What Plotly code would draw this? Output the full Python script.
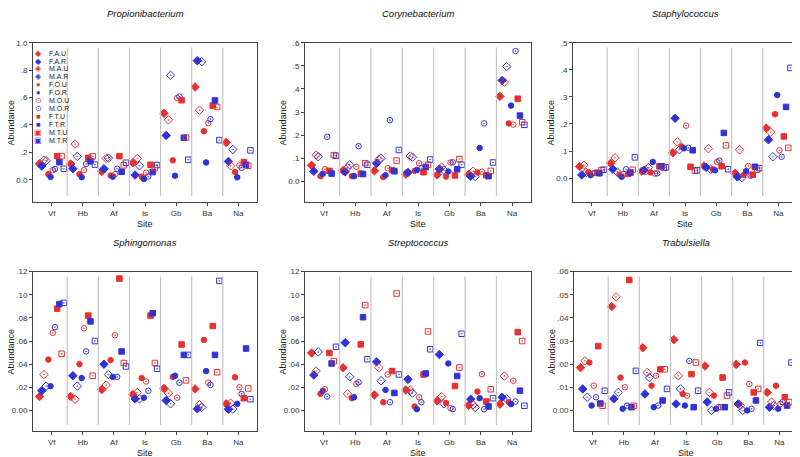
import plotly.graph_objects as go

sites = ["Vf", "Hb", "Af", "Is", "Gb", "Ba", "Na"]
groups = ["F.A.U", "F.A.R", "M.A.U", "M.A.R", "F.O.U", "F.O.R",
          "M.O.U", "M.O.R", "F.T.U", "F.T.R", "M.T.U", "M.T.R"]

# relative abundance, one row per site, columns follow `groups`
propionibacterium = [
    [0.117, 0.100, 0.143, 0.138, 0.040, 0.020, 0.070, 0.078, 0.172, 0.128, 0.172, 0.080],
    [0.115, 0.080, 0.260, 0.170, 0.040, 0.018, 0.070, 0.115, 0.160, 0.135, 0.170, 0.110],
    [0.060, 0.080, 0.155, 0.158, 0.030, 0.022, 0.040, 0.080, 0.172, 0.058, 0.105, 0.124],
    [0.124, 0.034, 0.155, 0.102, 0.022, 0.005, 0.051, 0.024, 0.109, 0.056, 0.085, 0.107],
    [0.485, 0.323, 0.437, 0.762, 0.141, 0.029, 0.597, 0.607, 0.580, 0.306, 0.308, 0.146],
    [0.677, 0.869, 0.507, 0.862, 0.354, 0.126, 0.413, 0.442, 0.541, 0.578, 0.531, 0.289],
    [0.272, 0.133, 0.102, 0.221, 0.056, 0.017, 0.104, 0.087, 0.129, 0.109, 0.102, 0.214],
]
corynebacterium = [
    [0.070, 0.044, 0.114, 0.107, 0.023, 0.033, 0.053, 0.193, 0.046, 0.034, 0.114, 0.111],
    [0.047, 0.042, 0.059, 0.072, 0.023, 0.023, 0.064, 0.153, 0.034, 0.032, 0.079, 0.072],
    [0.046, 0.079, 0.095, 0.100, 0.019, 0.027, 0.057, 0.265, 0.049, 0.044, 0.090, 0.136],
    [0.032, 0.039, 0.110, 0.105, 0.046, 0.050, 0.079, 0.057, 0.040, 0.063, 0.072, 0.095],
    [0.029, 0.054, 0.062, 0.049, 0.021, 0.043, 0.082, 0.083, 0.026, 0.053, 0.097, 0.072],
    [0.030, 0.023, 0.044, 0.021, 0.039, 0.145, 0.042, 0.251, 0.027, 0.023, 0.046, 0.082],
    [0.368, 0.437, 0.430, 0.497, 0.251, 0.328, 0.246, 0.564, 0.358, 0.285, 0.256, 0.245],
]
staphylococcus = [
    [0.043, 0.012, 0.048, 0.021, 0.022, 0.011, 0.017, 0.020, 0.020, 0.018, 0.030, 0.031],
    [0.055, 0.033, 0.075, 0.023, 0.013, 0.005, 0.015, 0.033, 0.016, 0.021, 0.031, 0.077],
    [0.026, 0.029, 0.027, 0.039, 0.021, 0.060, 0.017, 0.018, 0.044, 0.044, 0.038, 0.040],
    [0.094, 0.221, 0.134, 0.105, 0.117, 0.110, 0.194, 0.112, 0.042, 0.103, 0.027, 0.029],
    [0.045, 0.040, 0.109, 0.033, 0.033, 0.029, 0.060, 0.065, 0.044, 0.167, 0.121, 0.033],
    [0.018, 0.005, 0.105, 0.002, 0.013, 0.026, 0.045, 0.009, 0.013, 0.042, 0.031, 0.037],
    [0.185, 0.142, 0.170, 0.079, 0.236, 0.307, 0.103, 0.079, 0.154, 0.263, 0.112, 0.407],
]
sphingomonas = [
    [0.0120, 0.0170, 0.0310, 0.0210, 0.0440, 0.0210, 0.0670, 0.0720, 0.0880, 0.0920, 0.0490, 0.0930],
    [0.0120, 0.0300, 0.0097, 0.0210, 0.0400, 0.0280, 0.0710, 0.0510, 0.0820, 0.0770, 0.0300, 0.0600],
    [0.0180, 0.0400, 0.0220, 0.0310, 0.0435, 0.0290, 0.0650, 0.0290, 0.1140, 0.0510, 0.0410, 0.0380],
    [0.0137, 0.0100, 0.0155, 0.0100, 0.0280, 0.0110, 0.0250, 0.0170, 0.0820, 0.0840, 0.0410, 0.0360],
    [0.0190, 0.0086, 0.0150, 0.0057, 0.0290, 0.0300, 0.0110, 0.0240, 0.0570, 0.0480, 0.0260, 0.0480],
    [0.0186, 0.0014, 0.0049, 0.0026, 0.0610, 0.0340, 0.0240, 0.0220, 0.0730, 0.0480, 0.0330, 0.1120],
    [0.0057, 0.0011, 0.0063, 0.0011, 0.0286, 0.0057, 0.0200, 0.0143, 0.0106, 0.0535, 0.0190, 0.0097],
]
streptococcus = [
    [0.0497, 0.0306, 0.0340, 0.0506, 0.0143, 0.0169, 0.0183, 0.0120, 0.0497, 0.0406, 0.0426, 0.0550],
    [0.0369, 0.0586, 0.0143, 0.0291, 0.0106, 0.0114, 0.0229, 0.0243, 0.0571, 0.0806, 0.0911, 0.0443],
    [0.0134, 0.0420, 0.0369, 0.0257, 0.0071, 0.0177, 0.0311, 0.0071, 0.0340, 0.0151, 0.1011, 0.0311],
    [0.0177, 0.0269, 0.0177, 0.0149, 0.0034, 0.0011, 0.0114, 0.0071, 0.0311, 0.0320, 0.0683, 0.0529],
    [0.0083, 0.0483, 0.0120, 0.0057, 0.0063, 0.0406, 0.0020, 0.0011, 0.0211, 0.0297, 0.0371, 0.0663],
    [0.0043, 0.0097, 0.0049, 0.0026, 0.0163, 0.0106, 0.0314, 0.0011, 0.0077, 0.0034, 0.0183, 0.0106],
    [0.0054, 0.0114, 0.0297, 0.0100, 0.0071, 0.0054, 0.0257, 0.0077, 0.0677, 0.0171, 0.0600, 0.0040],
]
trabulsiella = [
    [0.0185, 0.0093, 0.0214, 0.0057, 0.0207, 0.0021, 0.0107, 0.0057, 0.0278, 0.0030, 0.0020, 0.0085],
    [0.0449, 0.0050, 0.0491, 0.0078, 0.0142, 0.0007, 0.0100, 0.0021, 0.0564, 0.0014, 0.0020, 0.0171],
    [0.0271, 0.0071, 0.0164, 0.0142, 0.0107, 0.0014, 0.0150, 0.0021, 0.0178, 0.0043, 0.0178, 0.0093],
    [0.0306, 0.0028, 0.0150, 0.0093, 0.0071, 0.0021, 0.0064, 0.0214, 0.0157, 0.0014, 0.0207, 0.0085],
    [0.0192, 0.0036, 0.0078, 0.0000, 0.0064, 0.0007, 0.0014, 0.0014, 0.0142, 0.0014, 0.0064, 0.0078],
    [0.0199, 0.0028, 0.0021, 0.0000, 0.0207, 0.0000, 0.0114, 0.0007, 0.0078, 0.0043, 0.0093, 0.0292],
    [0.0078, 0.0014, 0.0036, 0.0021, 0.0107, 0.0007, 0.0028, 0.0036, 0.0057, 0.0021, 0.0036, 0.0207],
]

panels = [
    ("Propionibacterium", propionibacterium, [0, .2, .4, .6, .8, 1.0], 1, [-0.165, 1.0]),
    ("Corynebacterium", corynebacterium, [0, .1, .2, .3, .4, .5, .6], 1, [-0.09, 0.6]),
    ("Staphylococcus", staphylococcus, [0, .1, .2, .3, .4, .5], 1, [-0.089, 0.5]),
    ("Sphingomonas", sphingomonas, [0, .02, .04, .06, .08, .10, .12], 2, [-0.018, 0.12]),
    ("Streptococcus", streptococcus, [0, .02, .04, .06, .08, .10, .12], 2, [-0.018, 0.12]),
    ("Trabulsiella", trabulsiella, [0, .01, .02, .03, .04, .05, .06], 2, [-0.009, 0.06]),
]

# plot areas in window pixels: (left, right, top, bottom)
boxes = [
    (33, 257, 39, 200), (305, 531, 39, 200), (573, 797, 39, 200),
    (33, 257, 270, 431), (305, 531, 270, 431), (574, 798, 270, 431),
]
# the page body adds an 8px margin, so the figure is drawn 8px smaller
OFF = 8
W, H = 800 - OFF, 457 - OFF


def px(p):
    return (p - OFF) / W


def py(p):
    return 1 - (p - OFF) / H


RED = "#e8302e"
BLUE = "#2f33d6"
symbols = {"F.A": "diamond", "M.A": "diamond-open-dot",
           "F.O": "circle", "M.O": "circle-open-dot",
           "F.T": "square", "M.T": "square-open-dot"}
legend_chars = {"F.A": "\u25c6", "M.A": "\u25c8", "F.O": "\u25cf",
                "M.O": "\u2299", "F.T": "\u25a0", "M.T": "\u25a3"}


def tick_label(v, decimals):
    s = f"{v:.{decimals}f}"
    if v != 0 and s.startswith("0."):
        s = s[1:]
    return s


fig = go.Figure()
layout = dict(width=W, height=H, margin=dict(l=0, r=0, t=0, b=0),
              paper_bgcolor="white", plot_bgcolor="white",
              showlegend=False, scattermode="group", scattergap=0.15,
              font=dict(family="Liberation Sans, Arial", size=8, color="#333"))
shapes, annotations = [], []

for n, (name, data, yticks, dec, yrange) in enumerate(panels, start=1):
    sfx = "" if n == 1 else str(n)
    l, r, t, b = boxes[n - 1]
    for k, g in enumerate(groups):
        key = g[:3]
        color = RED if g.endswith("U") else BLUE
        fig.add_trace(go.Scatter(
            x=sites, y=[row[k] for row in data], mode="markers", name=g,
            offsetgroup=g, orientation="v",
            xaxis="x" + sfx, yaxis="y" + sfx,
            marker=dict(symbol=symbols[key], color=color,
                        size=6.5 if "diamond" in symbols[key] else 5.5,
                        line=dict(color=color, width=1)),
        ))
    layout["xaxis" + sfx] = dict(
        domain=[px(l), px(r)], anchor="y" + sfx, range=[-0.6, 6.6],
        showline=True, mirror=True, linecolor="#444", linewidth=1,
        ticks="outside", ticklen=3, tickcolor="#444", showgrid=False,
        zeroline=False, tickfont=dict(size=8))
    layout["yaxis" + sfx] = dict(
        domain=[py(b), py(t)], anchor="x" + sfx, range=yrange,
        showline=True, mirror=True, linecolor="#444", linewidth=1,
        ticks="outside", ticklen=3, tickcolor="#444", showgrid=False,
        zeroline=False, tickvals=yticks,
        ticktext=[tick_label(v, dec) for v in yticks], tickfont=dict(size=8))

    # grey separators between sites
    for j in range(len(sites) - 1):
        shapes.append(dict(type="line", xref="x" + sfx, yref="y" + sfx + " domain",
                           x0=j + 0.5, x1=j + 0.5, y0=0.04, y1=0.97,
                           line=dict(color="#c4c4c4", width=1.2)))

    common = dict(xref="paper", yref="paper", showarrow=False,
                  xanchor="center", yanchor="middle")
    annotations.append(dict(text=f"<i>{name}</i>", x=px((l + r) / 2), y=py(t - 29),
                            font=dict(size=9.5, color="#111"), **common))
    annotations.append(dict(text="Site", x=px((l + r) / 2), y=py(b + 22),
                            font=dict(size=9, color="#222"), **common))
    annotations.append(dict(text="Abundance", x=px(l - 22), y=py((t + b) / 2),
                            textangle=-90, font=dict(size=9, color="#222"), **common))

# legend drawn inside the first panel
for k, g in enumerate(groups):
    color = RED if g.endswith("U") else BLUE
    yk = py(49 + 8 * k)
    annotations.append(dict(text=legend_chars[g[:3]], x=px(38), y=yk,
                            xref="paper", yref="paper", showarrow=False,
                            xanchor="center", yanchor="middle", height=8,
                            font=dict(size=7.5, color=color)))
    annotations.append(dict(text=g, x=px(47), y=yk, xref="paper", yref="paper",
                            xanchor="left", yanchor="middle", height=8,
                            showarrow=False, font=dict(size=7, color="#222")))

layout["shapes"] = shapes
layout["annotations"] = annotations
fig.update_layout(**layout)
fig.write_html("out.html")
